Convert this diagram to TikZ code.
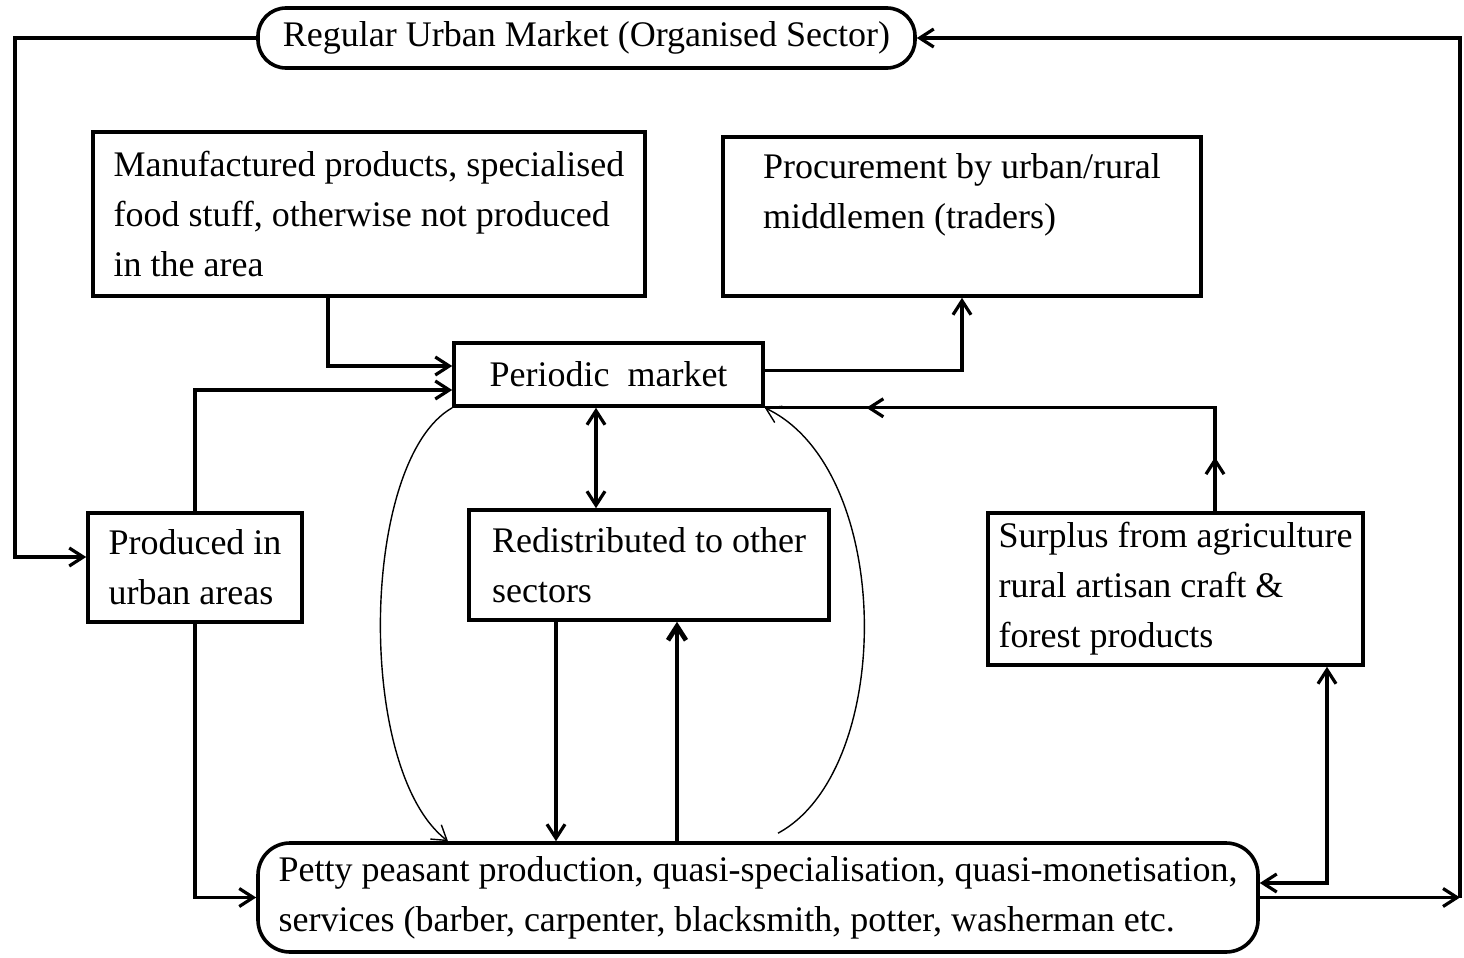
\documentclass[tikz,border=0pt]{standalone}
\usepackage{fontspec}
\setmainfont{Liberation Serif}
\usetikzlibrary{arrows.meta,decorations.markings}
\begin{document}
\begin{tikzpicture}[x=0.5pt,y=-0.5pt,
  font=\fontsize{18}{25}\selectfont,
  box/.style={draw,line width=1.8pt,align=left,inner sep=0pt},
  rbox/.style={box,rounded corners=14pt},
  mytip/.tip={Straight Barb[length=7pt,width=9pt]},
  arr/.style={line width=1.6pt,-mytip},
  darr/.style={line width=1.6pt,mytip-mytip},
  thin arr/.style={line width=0.7pt,-mytip},
  ln/.style={line width=1.6pt}]
\useasboundingbox (0,0) rectangle (1464,958);
\fill[white] (0,0) rectangle (1464,958);

% nodes
\node[rbox,minimum width=328.5pt,minimum height=30pt] (rum) at (586.5,38) {Regular Urban Market (Organised Sector)};
\node[box,minimum width=276pt,minimum height=82pt] (manu) at (369,214) {Manufactured products, specialised\\food stuff, otherwise not produced\\in the area};
\node[box,minimum width=239pt,minimum height=79.5pt] (proc) at (962,216.5) {Procurement by urban/rural\\middlemen (traders)\\\mbox{}};
\node[box,minimum width=154.5pt,minimum height=31.5pt] (per) at (608.5,374.5) {Periodic\ \ market};
\node[box,minimum width=107pt,minimum height=54.5pt] (prod) at (195,567.5) {Produced in\\urban areas};
\node[box,minimum width=180pt,minimum height=55pt] (redis) at (649,565) {Redistributed to other\\sectors};
\node[box,minimum width=187.5pt,minimum height=76pt] (surp) at (1175.5,589) {Surplus from agriculture\\rural artisan craft \&\\forest products};
\node[rbox,rounded corners=16pt,minimum width=500pt,minimum height=54.5pt] (petty) at (758,897.5) {Petty peasant production, quasi-specialisation, quasi-monetisation,\\services (barber, carpenter, blacksmith, potter, washerman etc.};

% helper coordinates
\coordinate (cTL) at (15,38);
\coordinate (cBL) at (15,557);
\coordinate (cTR) at (1460,38);
\coordinate (cBR) at (1460,897.5);
\coordinate (xA) at (328,0);
\coordinate (xD) at (1215,0);
\coordinate (xE) at (596,0);
\coordinate (xF) at (556,0);
\coordinate (xG) at (677,0);
\coordinate (xH) at (448,0);
\coordinate (xI) at (778,0);
\coordinate (xJ) at (1327,0);

% left loop: urban market -> produced in urban areas
\draw[arr] (rum.west) -- (cTL) -- (cBL) -- (cBL -| prod.west);
% right loop: petty -> urban market
\draw[arr] (petty.east) -- (cBR);
\draw[arr] (cBR) -- (cTR) -- (rum.east);

% manufactured -> periodic
\draw[arr] (manu.south -| xA) |- ([yshift=4.25pt]per.west);
% produced -> periodic
\draw[arr] (prod.north) |- ([yshift=-7.75pt]per.west);
% periodic -> procurement
\draw[arr] ([yshift=2pt]per.east) -| (proc.south);
% surplus -> periodic
\draw[ln,postaction={decorate},decoration={markings,
   mark=at position 27pt with {\arrow{mytip}},
   mark=at position 226pt with {\arrow{mytip}}}]
   (surp.north -| xD) |- (per.south east);
% periodic <-> redistributed
\draw[darr] (per.south -| xE) -- (redis.north -| xE);
% redistributed -> petty
\draw[arr] (redis.south -| xF) -- (petty.north -| xF);
% petty -> redistributed
\draw[arr,line width=2.4pt] (petty.north -| xG) -- (redis.south -| xG);
% produced -> petty
\draw[arr] (prod.south) |- (petty.west);
% petty <-> surplus
\draw[darr] ([yshift=7.25pt]petty.east) -| (surp.south -| xJ);
% curves
\draw[thin arr] (per.south west) .. controls (360,460) and (355,770) .. (petty.north -| xH);
\draw[thin arr] ([yshift=4pt]petty.north -| xI) .. controls (895,770) and (895,470) .. (per.south east);
\end{tikzpicture}
\end{document}
